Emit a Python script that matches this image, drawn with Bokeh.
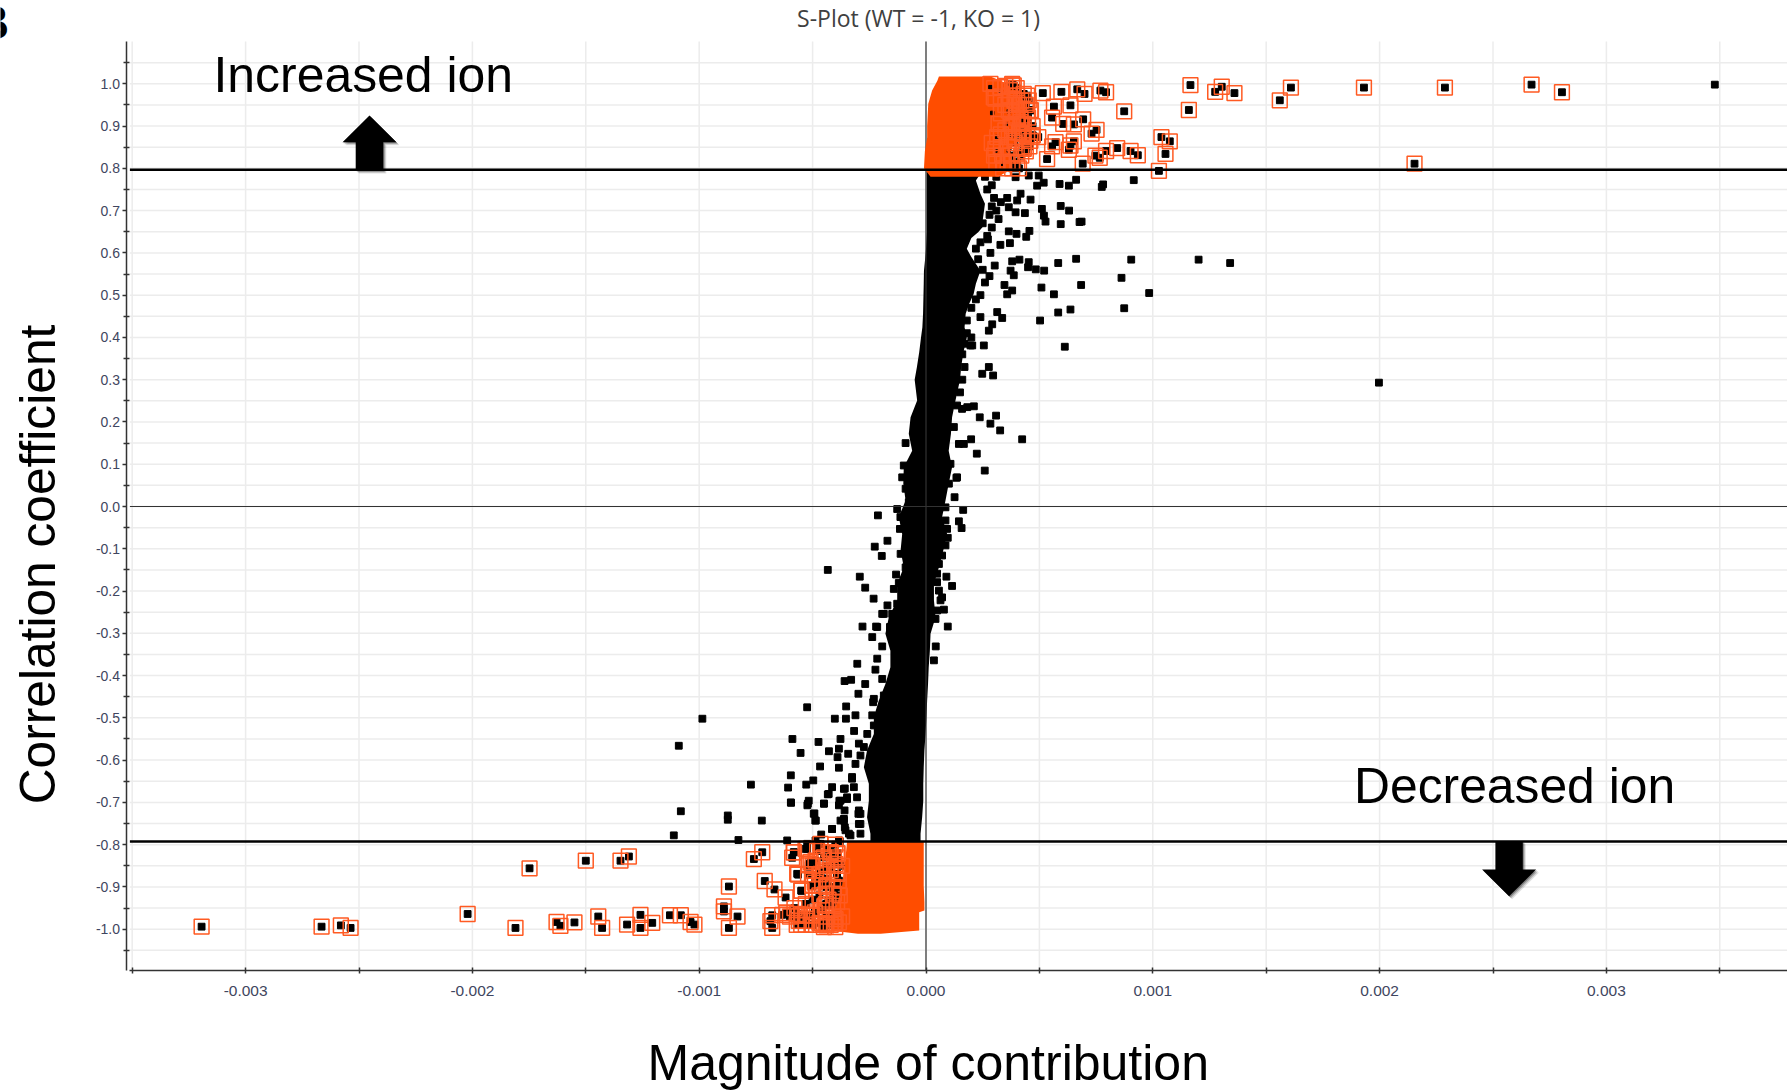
from bokeh.plotting import figure
from bokeh.models import Label, Range1d, FixedTicker, NumeralTickFormatter
from bokeh.embed import file_html
from bokeh.resources import INLINE
import numpy as np

# contribution values below are in units of 1e-3
up_sel_x = [1.166,1.275,1.304,1.360,1.159,1.560,1.609,1.931,2.288,2.670,2.804,2.154,.874,.515,1.038,1.075,1.056,1.027,
            .597,.667,.699,.769,.794,.564,.637,.556,.605,.652,.693,.752,.730,.471,.495,.571,.556,.652,.637,.630,.456,.431,
            .534,.691,.747,.766,.794,.843,.902,.934,.462,.387,.402,.417,.424,.343,.380,.314,.306,.299,.373,
            .328,.365,.373,.417,.431,.424,.446,.365,.387,.336,.373,.306,.365,.402,.431,.453,.446,.284,
            .380,.446,.461,.424,.468,.431,.402,.380,
            .30,.33,.35,.37,.40,.41,.39,.35,.33,.42,.44,.40,.38,.35,.33,.41,.43,.39,.36,.33,.40,.42,.36,.34,.38,.31,.41,.45,.47,.46,.44,.30,.29,.32]
up_sel_y = [.997,.981,.993,.978,.938,.961,.991,.991,.991,.998,.980,.811,.935,.978,.874,.864,.834,.794,
            .981,.987,.976,.984,.980,.946,.949,.920,.905,.904,.916,.891,.882,.878,.874,.862,.852,.864,.854,.844,.852,.849,
            .822,.811,.830,.825,.841,.848,.841,.831,.937,.996,.972,.909,.874,.811,.812,.874,.846,.968,.933,
            .992,.937,.905,.917,.905,.890,.878,.874,.874,.830,.830,.965,.972,.937,.976,.961,.937,1.0,
            .996,.972,.938,.905,.878,.846,.815,1.0,
            .99,.97,.995,.985,.99,.95,.96,.95,.93,.96,.95,.92,.90,.89,.88,.885,.87,.86,.85,.85,.835,.83,.815,.80,.80,.815,.80,.92,.90,.865,.84,.83,.86,.905]

# ions whose black centre shows through the solid orange block
up_show_x = [.284,.380,.328,.446,.461,.365,.292,.421,.351,.468,.314,.380,.424,.424,.306,.365,.336,.380,.402,.483]
up_show_y = [.992,.992,.983,.972,.938,.935,.931,.913,.905,.878,.874,.878,.890,.846,.842,.842,.811,.811,.815,.874]

down_sel_x = [-3.194,-2.665,-2.580,-2.537,-2.021,-1.810,-1.748,-1.629,-1.612,-1.550,-1.500,-1.445,-1.428,-1.347,-1.310,
              -1.318,-1.259,-1.259,-1.207,-1.129,-1.081,-1.038,-1.021,-.891,-.891,-.869,-.831,-.869,-.759,-.722,-.711,-.668,
              -.619,-.582,-.590,-.564,-.549,-.678,-.686,-.678,-.634,-.616,-.568,-.546,-.524,-.502,-.458,-.439,-.443,-.517,
              -.499,-.458,-.465,-.487,-.406,-.392,-.384,-.524,-.421,-.392,-.406,
              -.568,-.550,-.502,-.458,-.447,-.458,-.443,-.509,-.392,-.399,-.392,-.384,-.406,-.392,-.399,-.406,-.384,
              -.561,-.531,-.509,-.561,-.531,-.436,-.451,-.517,-.583,-.531,-.465,-.421,
              -.40,-.43,-.45,-.48,-.50,-.44,-.42,-.47,-.52,-.49,-.44,-.41,-.47,-.50,-.43,-.53,-.41,-.46,-.49,-.44,-.42,-.47,-.50,-.53,-.55,-.58,-.60,-.57,-.45,-.40,-.38,-.37,-.37,-.39,-.44]
down_sel_y = [-.994,-.994,-.991,-.997,-.964,-.997,-.856,-.983,-.992,-.984,-.838,-.970,-.997,-.838,-.828,
              -.989,-.966,-.997,-.985,-.967,-.967,-.983,-.989,-.946,-.958,-.899,-.970,-.997,-.834,-.818,-.886,-.906,
              -.925,-.818,-.831,-.871,-.909,-.967,-.981,-.997,-.966,-.962,-.964,-.967,-.967,-.966,-.986,-.991,-.945,-.846,
              -.897,-.885,-.869,-.838,-.838,-.869,-.901,-.810,-.818,-.822,-.971,
              -.869,-.909,-.897,-.897,-.944,-.987,-.987,-.841,-.830,-.846,-.869,-.885,-.916,-.936,-.976,-.987,-.984,
              -.968,-.968,-.968,-.980,-.980,-.881,-.861,-.849,-.818,-.810,-.798,-.818,
              -.80,-.81,-.83,-.815,-.85,-.85,-.86,-.87,-.87,-.89,-.90,-.90,-.92,-.93,-.93,-.94,-.945,-.955,-.96,-.97,-.99,-.985,-.99,-.99,-.99,-.95,-.97,-.99,-.995,-.995,-.92,-.85,-.97,-.82,-.94]

other_x = [3.478,1.997,1.202,1.341,.395,.453,.497,.490,.519,.589,.630,.662,.781,.775,.916,.417,.461,.358,.402,.365,.395,
           .436,.511,.520,.594,.631,.527,.594,.677,.686,.456,.442,.399,.365,.273,.328,.370,.284,.303,.380,.412,.373,.387,
           .453,.450,.484,.521,.583,.662,.905,.862,.684,.346,.380,.358,.509,.564,.984,.874,.637,.583,.503,.314,.336,.240,
           .292,.277,.612,.255,.196,.277,.248,.296,
           .424,.309,.284,.327,.237,.199,.224,.259,.211,.167,.137,.126,.164,.145,.157,.096,.090,.115,.071,.079,.096,.043,.035,
           -.212,-.170,-.226,-.195,-.433,-.292,-.268,-.231,-.170,-.186,-.280,-.220,-.237,-.193,-.303,-.215,-.223,-.359,-.330,
           -.268,-.298,-.524,-.352,-.233,-.402,-.353,-.311,-.986,-.317,-.589,-.474,-.377,-.553,-.428,-.384,-.343,-.390,-.296,
           -.467,-.384,-.311,-.596,-.497,-.772,-.608,-.528,-.414,-.358,-.326,-.433,-.596,-.517,-.523,-.450,-.382,-.348,-.384,
           -.359,-.874,-.874,-.724,-.492,-.486,-.362,-.298,-.358,-.414,-.462,-.827,-.612,-.487,-.524,-.384,-.289,-.340,
           -1.081,-1.112,-1.09,-.429,-.362,-.377,-.450,-.521,-.595,-.495,-.488,-.414,-.362,-.355,-.333,-.296,-.296,-.473,-.380,
           # ions along the edge of the dense band
           .137,.159,.182,.123,.145,.108,.134,.101,.086,.086,.093,.086,.071,.057,.049,.049,.057,.064,.049,.042,.204,
           -.090,-.098,-.105,-.076,-.090,-.076,-.127,-.113,-.115,-.083,-.112,-.090,-.132,-.120,-.142,-.127,-.193,-.149,
           -.215,-.159,-.193,-.230,-.186,-.237,-.230,-.259,-.274,-.289,-.326,-.318,-.348,-.304,-.289,-.289,-.377,
           .26,.29,.31,.27,.30,.33,.29,.31,.28,.32,.25,.29,.27,.24,.22,.23,.25,.28,.26,.24,.22,.20,.18,.18,.20,.17,.16,.17,.16,.15]
other_y = [.998,.293,.584,.576,.779,.783,.783,.759,.766,.763,.759,.773,.762,.756,.772,.740,.726,.730,.724,.708,.696,
           .694,.704,.688,.711,.700,.674,.668,.673,.674,.652,.638,.645,.651,.632,.619,.623,.600,.570,.580,.584,.558,.547,
           .578,.566,.561,.558,.576,.586,.584,.541,.524,.524,.511,.502,.518,.502,.505,.469,.466,.459,.440,.460,.446,.448,
           .431,.416,.378,.381,.381,.330,.314,.310,
           .159,.215,.196,.180,.211,.159,.125,.085,.237,.148,.069,.022,-.008,-.035,-.051,-.074,-.166,-.188,-.215,-.244,-.284,-.331,-.364,
           -.021,-.081,-.095,-.117,-.150,-.166,-.192,-.218,-.234,-.254,-.284,-.284,-.309,-.331,-.372,-.360,-.386,-.413,-.410,
           -.420,-.443,-.475,-.473,-.463,-.502,-.502,-.494,-.502,-.531,-.550,-.557,-.550,-.583,-.579,-.573,-.585,-.593,-.561,
           -.615,-.618,-.609,-.636,-.648,-.658,-.665,-.658,-.664,-.667,-.644,-.681,-.700,-.696,-.707,-.703,-.696,-.692,-.707,
           -.719,-.731,-.741,-.743,-.726,-.743,-.739,-.727,-.759,-.763,-.776,-.789,-.790,-.790,-.798,-.790,-.774,-.774,
           -.721,-.778,-.566,-.680,-.668,-.696,-.703,-.703,-.701,-.727,-.743,-.763,-.743,-.766,-.778,-.719,-.751,-.798,-.792,
           .239,.231,.235,.188,.148,.101,.068,.054,-.002,-.033,-.053,-.092,-.116,-.136,-.159,-.179,-.199,-.222,-.246,-.266,.381,
           .150,.097,.069,.069,.042,.010,-.006,-.025,-.053,-.073,-.112,-.144,-.161,-.181,-.195,-.230,-.254,-.254,
           -.285,-.285,-.408,-.455,-.447,-.494,-.518,-.538,-.569,-.589,-.640,-.664,-.688,-.688,-.727,-.751,-.743,
           .78,.76,.78,.75,.73,.72,.71,.70,.69,.68,.67,.66,.64,.625,.61,.585,.56,.545,.53,.50,.49,.47,.44,.41,.40,.385,.36,.33,.30,.27]

# envelope of the solid black band
band_y = [.795,.771,.74,.716,.677,.661,.649,.635,.61,.59,.558,.527,.503,.479,.456,.424,.40,.365,.33,.30,.251,.211,.172,.132,.093,.054,.014,-.025,-.065,
          -.104,-.144,-.183,-.222,-.262,-.301,-.341,-.380,-.420,-.459,-.498,-.538,-.577,-.617,-.656,-.696,-.735,-.774,-.80]
band_left = [.003,.003,.003,.003,.003,.003,.003,.002,0,-.003,-.009,-.01,-.011,-.012,-.013,-.016,-.022,-.030,-.040,-.050,-.039,-.068,-.076,-.061,-.098,
             -.10,-.09,-.12,-.105,-.112,-.098,-.127,-.127,-.164,-.179,-.157,-.157,-.179,-.208,-.23,-.23,-.26,-.274,-.252,
             -.252,-.26,-.245,-.245]
band_right = [.25,.22,.24,.26,.25,.25,.23,.20,.18,.20,.24,.22,.21,.19,.175,.17,.18,.165,.155,.15,.13,.115,.11,.10,.115,.10,.086,.071,.093,
              .076,.057,.035,.035,.042,.02,.017,.012,.009,.005,.002,-.002,-.007,-.01,-.012,-.012,-.017,-.024,-.024]

# envelopes of the solid orange blocks
upper_y = [1.017,1.007,.984,.953,.90,.873,.84,.80,.78]
upper_left = [.057,.05,.027,.010,.005,.005,-.005,-.009,.02]
upper_right = [.284,.33,.395,.44,.44,.40,.37,.38,.32]
lower_y = [-.793,-.857,-.897,-.936,-.956,-.960,-1.003,-1.011]
lower_left = [-.348,-.36,-.37,-.39,-.41,-.41,-.42,-.30]
lower_right = [-.01,-.01,-.01,-.007,-.007,-.03,-.03,-.20]

x_major = [-.003,-.002,-.001,0,.001,.002,.003]
x_minor = [-.0035,-.0025,-.0015,-.0005,.0005,.0015,.0025,.0035]
y_major = [-1,-.9,-.8,-.7,-.6,-.5,-.4,-.3,-.2,-.1,0,.1,.2,.3,.4,.5,.6,.7,.8,.9,1]
y_minor = [-1.05,-.95,-.85,-.75,-.65,-.55,-.45,-.35,-.25,-.15,-.05,.05,.15,.25,.35,.45,.55,.65,.75,.85,.95,1.05]
threshold_up, threshold_down = .7965, -.7926

BLACK, ORANGE, GRID, TICK = "#000000", "#ff4d00", "#ececec", "#3f4660"
E = 1e-3
Y_BOTTOM, Y_TOP = -1.098, 1.100

# page-pixel helpers: 0.000 sits at pixel 925.5, correlation 0 at pixel 506
def X(px): return (px-925.5)/226.8*E
def Y(py): return (506-py)/422.7
X_LEFT, X_RIGHT = X(129.4), X(1787)

p = figure(width=1787, height=1090, output_backend="svg", toolbar_location=None,
           x_range=Range1d(X(0), X(1787)), y_range=Range1d(Y(1090), Y(0)),
           min_border_left=0, min_border_right=0, min_border_top=0, min_border_bottom=0,
           background_fill_color="white", border_fill_color="white", outline_line_color=None)
p.styles = {"position": "absolute", "left": "0px", "top": "0px"}
p.grid.visible = False

xt = FixedTicker(ticks=x_major, minor_ticks=x_minor)
yt = FixedTicker(ticks=y_major, minor_ticks=y_minor)
xa, ya = p.xaxis[0], p.yaxis[0]
xa.ticker = xt
ya.ticker = yt
xa.formatter = NumeralTickFormatter(format="0.000")
ya.formatter = NumeralTickFormatter(format="0.0")
xa.fixed_location = Y_BOTTOM
ya.fixed_location = X(125.5)
xa.bounds = (X_LEFT, X_RIGHT)
ya.bounds = (Y_BOTTOM, Y_TOP)
for ax in (xa, ya):
    ax.axis_line_color = "#333333"
    ax.axis_line_width = 1.5
    ax.major_tick_line_color = "#333333"
    ax.minor_tick_line_color = "#333333"
    ax.major_tick_line_width = 1.5
    ax.minor_tick_line_width = 1.5
    ax.major_label_text_font = "Liberation Sans"
    ax.major_label_text_color = TICK
xa.major_label_text_font_size = "15.5px"
ya.major_label_text_font_size = "14px"
xa.major_tick_in = 3; xa.major_tick_out = 3
xa.minor_tick_in = 3; xa.minor_tick_out = 3
xa.major_label_standoff = 12
ya.major_tick_in = 0; ya.major_tick_out = 4
ya.minor_tick_in = 3; ya.minor_tick_out = 3
ya.major_label_standoff = 2

# grid lines
gx = x_major + x_minor
gy = y_major + y_minor
p.segment(gx, [Y_BOTTOM]*len(gx), gx, [Y_TOP]*len(gx), line_color=GRID, line_width=1.5)
p.segment([X_LEFT]*len(gy), gy, [X_RIGHT]*len(gy), gy, line_color=GRID, line_width=1.5)

SZ = 6.8
ox, oy = np.array(other_x)*E, np.array(other_y)
ux, uy = np.array(up_sel_x)*E, np.array(up_sel_y)
dx, dy = np.array(down_sel_x)*E, np.array(down_sel_y)

# black band and scattered ions
p.harea(x1=np.array(band_left)*E, x2=np.array(band_right)*E, y=band_y, fill_color=BLACK)
p.scatter(ox, oy, marker="square", size=SZ, color=BLACK)

# zero lines
p.line([0, 0], [Y_BOTTOM, Y_TOP], line_color="#333333", line_width=1.2)
p.line([X_LEFT, X_RIGHT], [0, 0], line_color="#333333", line_width=1.2)

# selected ions: centres first, then the orange that hides most of them
p.scatter(ux, uy, marker="square", size=SZ, color=BLACK)
p.scatter(dx, dy, marker="square", size=SZ, color=BLACK)
p.harea(x1=np.array(upper_left)*E, x2=np.array(upper_right)*E, y=upper_y, fill_color=ORANGE)
p.harea(x1=np.array(lower_left)*E, x2=np.array(lower_right)*E, y=lower_y, fill_color=ORANGE)
p.scatter(np.array(up_show_x)*E, up_show_y, marker="square", size=3.5, color=BLACK)
p.scatter(ux, uy, marker="square", size=14.8, fill_color=None, line_color="#ff5a22", line_width=1.5)
p.scatter(dx, dy, marker="square", size=14.8, fill_color=None, line_color="#ff5a22", line_width=1.5)

# threshold lines
p.line([X_LEFT, X_RIGHT], [threshold_up]*2, line_color=BLACK, line_width=2.6)
p.line([X_LEFT, X_RIGHT], [threshold_down]*2, line_color=BLACK, line_width=2.6)

def arrow(cx, y0, y1, y2, hw, sw, color, alpha, off=0):
    xs = [cx, cx+hw, cx+sw, cx+sw, cx-sw, cx-sw, cx-hw]
    ys = [y2, y1, y1, y0, y0, y1, y1]
    p.patch(np.array(xs)+off*E/226.8, np.array(ys)-off/422.7, fill_color=color, fill_alpha=alpha, line_color=None)

for off, al in ((3, .12), (2, .2), (1, .3)):
    arrow(X(369), Y(170), Y(141.7), Y(115), 27/226.8*E, 13.8/226.8*E, "#000000", al, off)
    arrow(X(1508.6), Y(840.7), Y(869), Y(895.7), 27/226.8*E, 13.7/226.8*E, "#000000", al, off)
arrow(X(369), Y(170), Y(141.7), Y(115), 27/226.8*E, 13.8/226.8*E, BLACK, 1)
arrow(X(1508.6), Y(840.7), Y(869), Y(895.7), 27/226.8*E, 13.7/226.8*E, BLACK, 1)

def label(text, px, py, size, align="left", angle=0, color=BLACK, font="Liberation Sans", style="normal"):
    p.add_layout(Label(x=X(px), y=Y(py), text=text, text_font=font, text_font_size=f"{size}px",
                       text_align=align, text_baseline="alphabetic", angle=angle, angle_units="deg",
                       text_color=color, text_font_style=style))

label("S-Plot (WT = -1, KO = 1)", 918, 17.7, 23, "center", color="#404040", font="Open Sans")
label("Increased ion", 213, 74, 49.9)
label("Decreased ion", 1353.5, 785, 49.8)
label("Magnitude of contribution", 647, 1062, 50)
label("Correlation coefficient", 37.5, 564, 49.7, "center", angle=90)
label("B", -26, 22, 48, style="bold")

open("out.html", "w").write(file_html(p, INLINE))
